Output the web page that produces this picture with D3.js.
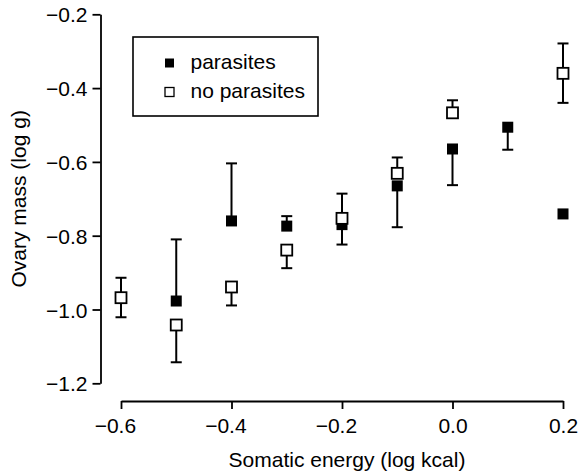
<!DOCTYPE html>
<html>
<head>
<meta charset="utf-8">
<script src="https://cdn.jsdelivr.net/npm/d3@7"></script>
<style>
	body { margin : 0; background : #fff; }
	svg text { font-family : 'Liberation Sans', Arial, sans-serif; }
</style>
</head>
<body>
<div id="chart"></div>
<script>
// values (log kcal / log g)
const parasitesX    = [-0.5, -0.4, -0.3, -0.2, -0.1, 0.0, 0.1, 0.2];
const parasitesY    = [-0.977, -0.760, -0.774, -0.770, -0.665, -0.565, -0.506, -0.741];
const parasitesLow  = [-0.977, -0.760, -0.774, -0.824, -0.777, -0.663, -0.567, -0.741];
const parasitesHigh = [-0.810, -0.604, -0.747, -0.770, -0.665, -0.565, -0.506, -0.741];

const noParasitesX    = [-0.6, -0.5, -0.4, -0.3, -0.2, -0.1, 0.0, 0.2];
const noParasitesY    = [-0.968, -1.042, -0.939, -0.839, -0.753, -0.631, -0.467, -0.360];
const noParasitesLow  = [-1.021, -1.143, -0.989, -0.888, -0.753, -0.631, -0.467, -0.440];
const noParasitesHigh = [-0.914, -1.042, -0.939, -0.839, -0.686, -0.588, -0.433, -0.279];

const xTicks = [-0.6, -0.4, -0.2, 0.0, 0.2];
const yTicks = [-1.2, -1.0, -0.8, -0.6, -0.4, -0.2];

const seriesNames = ['parasites', 'no parasites'];

const width    = 579;
const height   = 474;
const fontSize = 21;
const markSize = 11;
const capWidth = 11;

const x = d3.scaleLinear()
            .domain( [-0.6, 0.2] )
            .range( [121, 563] );

const y = d3.scaleLinear()
            .domain( [-1.2, -0.2] )
            .range( [383.3, 14.3] );

const svg = d3.select( '#chart' )
              .append( 'svg' )
              .attr( 'width', width )
              .attr( 'height', height );

// axes, drawn apart from each other like the original
const xAxis = svg.append( 'g' )
                 .attr( 'transform', 'translate(0,401)' )
                 .call( d3.axisBottom( x )
                          .tickValues( xTicks )
                          .tickFormat( d3.format( '.1f' ) )
                          .tickSize( 8 )
                          .tickSizeOuter( 0 )
                          .tickPadding( 9 ) );

const yAxis = svg.append( 'g' )
                 .attr( 'transform', 'translate(100.5,0)' )
                 .call( d3.axisLeft( y )
                          .tickValues( yTicks )
                          .tickFormat( d3.format( '.1f' ) )
                          .tickSize( 8 )
                          .tickSizeOuter( 0 )
                          .tickPadding( 5 ) );

[xAxis, yAxis].forEach( ax => {
	ax.selectAll( 'path, line' )
	  .attr( 'stroke', '#000' )
	  .attr( 'stroke-width', 1.8 );
	ax.selectAll( 'text' )
	  .attr( 'fill', '#000' )
	  .attr( 'font-size', fontSize + 'px' );
} );

// negative x labels: the digits sit centred on the tick, the minus hangs left
xAxis.selectAll( 'text' )
     .attr( 'dx', d => d < 0 ? -( 0.584 * fontSize / 2 ) : 0 );

yAxis.selectAll( 'text' )
     .attr( 'dy', '0.36em' );

svg.selectAll( '.domain' ).attr( 'fill', 'none' );

// axis titles
svg.append( 'text' )
   .attr( 'x', 347 )
   .attr( 'y', 467 )
   .attr( 'text-anchor', 'middle' )
   .attr( 'font-size', fontSize + 'px' )
   .text( 'Somatic energy (log kcal)' );

svg.append( 'text' )
   .attr( 'transform', `translate(26,${( y( -0.2 ) + y( -1.2 ) ) / 2}) rotate(-90)` )
   .attr( 'text-anchor', 'middle' )
   .attr( 'font-size', fontSize + 'px' )
   .text( 'Ovary mass (log g)' );

// error bars + markers
const drawSeries = ( xs, ys, lows, highs, filled ) => {
	const rows = xs.map( ( d, i ) => ( { x : d, y : ys[i], lo : lows[i], hi : highs[i] } ) );
	const g    = svg.append( 'g' );

	const bars = rows.filter( d => d.lo < d.y || d.hi > d.y );

	g.selectAll( 'line.bar' )
	 .data( bars )
	 .enter()
	 .append( 'line' )
	 .attr( 'x1', d => x( d.x ) )
	 .attr( 'x2', d => x( d.x ) )
	 .attr( 'y1', d => y( d.lo ) )
	 .attr( 'y2', d => y( d.hi ) )
	 .attr( 'stroke', '#000' )
	 .attr( 'stroke-width', 2 );

	const caps = [];
	bars.forEach( d => {
		if ( d.lo < d.y ) { caps.push( { x : d.x, v : d.lo } ); }
		if ( d.hi > d.y ) { caps.push( { x : d.x, v : d.hi } ); }
	} );

	g.selectAll( 'line.cap' )
	 .data( caps )
	 .enter()
	 .append( 'line' )
	 .attr( 'x1', d => x( d.x ) - capWidth / 2 )
	 .attr( 'x2', d => x( d.x ) + capWidth / 2 )
	 .attr( 'y1', d => y( d.v ) )
	 .attr( 'y2', d => y( d.v ) )
	 .attr( 'stroke', '#000' )
	 .attr( 'stroke-width', 2 );

	g.selectAll( 'rect' )
	 .data( rows )
	 .enter()
	 .append( 'rect' )
	 .attr( 'x', d => x( d.x ) - markSize / 2 )
	 .attr( 'y', d => y( d.y ) - markSize / 2 )
	 .attr( 'width', markSize )
	 .attr( 'height', markSize )
	 .attr( 'fill', filled ? '#000' : '#fff' )
	 .attr( 'stroke', '#000' )
	 .attr( 'stroke-width', filled ? 0 : 1.8 );
};

drawSeries( parasitesX, parasitesY, parasitesLow, parasitesHigh, true );
drawSeries( noParasitesX, noParasitesY, noParasitesLow, noParasitesHigh, false );

// legend
const legend = svg.append( 'g' );

legend.append( 'rect' )
      .attr( 'x', 133 )
      .attr( 'y', 37 )
      .attr( 'width', 185 )
      .attr( 'height', 79 )
      .attr( 'fill', '#fff' )
      .attr( 'stroke', '#000' )
      .attr( 'stroke-width', 1.6 );

const legendRows = legend.selectAll( 'g.row' )
                         .data( seriesNames )
                         .enter()
                         .append( 'g' )
                         .attr( 'transform', ( d, i ) => `translate(169.5,${63 + i * 29})` );

legendRows.append( 'rect' )
          .attr( 'x', -4.5 )
          .attr( 'y', -4.5 )
          .attr( 'width', 9 )
          .attr( 'height', 9 )
          .attr( 'fill', ( d, i ) => i === 0 ? '#000' : '#fff' )
          .attr( 'stroke', '#000' )
          .attr( 'stroke-width', ( d, i ) => i === 0 ? 0 : 1.3 );

legendRows.append( 'text' )
          .attr( 'x', 21 )
          .attr( 'y', 5.5 )
          .attr( 'font-size', fontSize + 'px' )
          .text( d => d );
</script>
</body>
</html>
